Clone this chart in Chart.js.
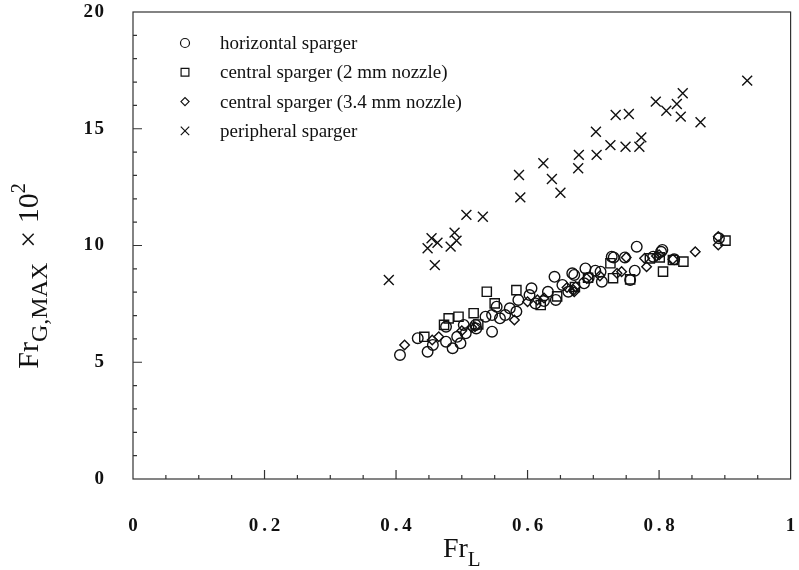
<!DOCTYPE html>
<html>
<head>
<meta charset="utf-8">
<script src="https://cdn.jsdelivr.net/npm/chart.js@4.4.0/dist/chart.umd.min.js"></script>
<style>
  html, body { margin: 0; padding: 0; background: #fff; }
</style>
</head>
<body>
<canvas id="grafico" width="799" height="570"></canvas>
<script>
// ====================================================================
// Datos: Fr_L (x) frente a Fr_G,MAX x 10^2 (y)
// ====================================================================

// horizontal sparger (círculos)
const horizontalX = [0.406, 0.433, 0.448, 0.456, 0.486, 0.476, 0.498, 0.493, 0.506, 0.546,
  0.536, 0.546, 0.558, 0.566, 0.553, 0.573, 0.583, 0.586, 0.606, 0.603,
  0.631, 0.643, 0.641, 0.653, 0.668, 0.688, 0.686, 0.476, 0.503, 0.521,
  0.766, 0.803, 0.731, 0.748, 0.711, 0.763, 0.671, 0.713, 0.756, 0.823,
  0.891, 0.791, 0.728, 0.805, 0.522, 0.612, 0.625, 0.662, 0.693, 0.703];
const horizontalY = [5.31, 6.03, 5.45, 5.74, 5.60, 5.88, 5.81, 6.09, 6.24, 6.31,
  6.95, 7.02, 6.88, 7.02, 7.38, 7.31, 7.17, 7.67, 8.17, 7.88,
  8.02, 7.67, 8.66, 8.31, 8.81, 9.02, 8.38, 6.52, 6.60, 6.60,
  9.95, 9.73, 9.49, 9.49, 8.88, 8.92, 8.74, 8.45, 8.52, 9.41,
  10.31, 9.52, 9.52, 9.81, 6.45, 7.52, 7.62, 8.02, 8.62, 8.92];

// central sparger 2 mm (cuadrados)
const central2X = [0.538, 0.583, 0.550, 0.480, 0.495, 0.518, 0.443, 0.620, 0.473, 0.726,
  0.730, 0.806, 0.821, 0.837, 0.901, 0.786, 0.801, 0.756, 0.672, 0.645,
  0.692, 0.525];
const central2Y = [8.02, 8.09, 7.52, 6.88, 6.95, 7.10, 6.09, 7.45, 6.60, 9.24,
  8.60, 8.88, 9.38, 9.31, 10.21, 9.45, 9.49, 8.55, 8.22, 7.82,
  8.62, 6.62];

// central sparger 3.4 mm (rombos)
const central34X = [0.413, 0.465, 0.580, 0.520, 0.600, 0.615, 0.670, 0.690, 0.750, 0.778,
  0.781, 0.796, 0.821, 0.855, 0.890, 0.890, 0.736, 0.743, 0.673, 0.671,
  0.455, 0.500, 0.515, 0.625, 0.660, 0.710, 0.800];
const central34Y = [5.74, 6.09, 6.81, 6.52, 7.59, 7.67, 8.09, 8.59, 9.49, 9.45,
  9.09, 9.55, 9.41, 9.73, 10.38, 10.02, 8.81, 8.88, 8.24, 8.02,
  5.95, 6.35, 6.50, 7.75, 8.20, 8.70, 9.60];

// peripheral sparger (aspas)
const perifericoX = [0.934, 0.836, 0.795, 0.827, 0.811, 0.833, 0.863, 0.734, 0.754, 0.704,
  0.773, 0.726, 0.749, 0.770, 0.678, 0.705, 0.677, 0.624, 0.587, 0.637,
  0.650, 0.589, 0.507, 0.532, 0.454, 0.463, 0.448, 0.489, 0.492, 0.483,
  0.459, 0.389];
const perifericoY = [17.06, 16.52, 16.16, 16.06, 15.77, 15.52, 15.28, 15.59, 15.63, 14.87,
  14.63, 14.30, 14.23, 14.23, 13.88, 13.88, 13.31, 13.52, 13.02, 12.85,
  12.26, 12.06, 11.31, 11.23, 10.31, 10.12, 9.88, 10.55, 10.21, 9.95,
  9.16, 8.52];

const etiquetasSerie = [
  'horizontal sparger',
  'central sparger (2 mm nozzle)',
  'central sparger (3.4 mm nozzle)',
  'peripheral sparger'
];

const TINTA = '#111';
const FUENTE = "'Liberation Serif', 'Times New Roman', serif";

// Función para armar un dataset de dispersión
function crearSerie(label, xs, ys, estilo, radio) {
  return {
    label: label,
    data: xs.map((x, i) => ({ x: x, y: ys[i] })),
    pointStyle: estilo,
    pointRadius: radio,
    pointHoverRadius: radio,
    pointBorderColor: TINTA,
    pointBackgroundColor: 'rgba(0,0,0,0)',
    pointBorderWidth: 1.4,
    showLine: false
  };
}

// Marco completo con marcas hacia dentro
const marcoEjes = {
  id: 'marcoEjes',
  afterDraw(chart) {
    const { ctx, chartArea: a, scales: { x, y } } = chart;
    ctx.save();
    ctx.strokeStyle = '#333';
    ctx.lineWidth = 1.2;
    ctx.strokeRect(a.left, a.top, a.right - a.left, a.bottom - a.top);
    ctx.beginPath();
    for (let i = 1; i < 20; i++) {
      const px = x.getPixelForValue(i * 0.05);
      const largo = i % 4 === 0 ? 9 : 4;
      ctx.moveTo(px, a.bottom);
      ctx.lineTo(px, a.bottom - largo);
    }
    for (let i = 1; i < 20; i++) {
      const py = y.getPixelForValue(i);
      const largo = i % 5 === 0 ? 9 : 4;
      ctx.moveTo(a.left, py);
      ctx.lineTo(a.left + largo, py);
    }
    ctx.stroke();
    ctx.restore();
  }
};

// Leyenda dentro del área del gráfico
const leyendaInterna = {
  id: 'leyendaInterna',
  afterDraw(chart) {
    const ctx = chart.ctx;
    ctx.save();
    chart.data.datasets.forEach((ds, i) => {
      const yFila = 43 + i * 29.3;
      ctx.strokeStyle = TINTA;
      ctx.fillStyle = 'rgba(0,0,0,0)';
      ctx.lineWidth = 1.2;
      Chart.helpers.drawPoint(ctx, {
        pointStyle: ds.pointStyle,
        radius: ds.pointRadius * 0.85,
        rotation: 0,
        borderWidth: 1.2
      }, 185, yFila);
      ctx.fillStyle = TINTA;
      ctx.font = '19px ' + FUENTE;
      ctx.textBaseline = 'middle';
      ctx.textAlign = 'left';
      ctx.fillText(ds.label, 220, yFila + 1);
    });
    ctx.restore();
  }
};

// Títulos de ejes con subíndices y superíndice
const titulosEjes = {
  id: 'titulosEjes',
  afterDraw(chart) {
    const { ctx, chartArea: a } = chart;
    ctx.save();
    ctx.fillStyle = TINTA;
    ctx.textBaseline = 'alphabetic';
    ctx.textAlign = 'left';

    // eje X: Fr_L
    const fGrande = '28px ' + FUENTE;
    const fSub = '21px ' + FUENTE;
    ctx.font = fGrande;
    const wFr = ctx.measureText('Fr').width;
    ctx.font = fSub;
    const wL = ctx.measureText('L').width;
    let x0 = (a.left + a.right) / 2 - (wFr + wL) / 2;
    ctx.font = fGrande;
    ctx.fillText('Fr', x0, 557);
    ctx.font = fSub;
    ctx.fillText('L', x0 + wFr, 566);

    // eje Y: Fr_G,MAX × 10^2
    const partes = [
      { t: 'Fr', f: '30px ' + FUENTE, dy: 0 },
      { t: 'G,MAX', f: '24px ' + FUENTE, dy: 9 },
      { t: '  \u00d7 10', f: '30px ' + FUENTE, dy: 0 },
      { t: '2', f: '20px ' + FUENTE, dy: -13 }
    ];
    let total = 0;
    partes.forEach(p => { ctx.font = p.f; p.w = ctx.measureText(p.t).width; total += p.w; });
    ctx.translate(38, 276);
    ctx.rotate(-Math.PI / 2);
    let cx = -total / 2;
    partes.forEach(p => {
      ctx.font = p.f;
      ctx.fillText(p.t, cx, p.dy);
      cx += p.w;
    });
    ctx.restore();
  }
};

function espaciar(texto, sep) {
  return texto.split('').join(sep);
}

const ctx = document.getElementById('grafico').getContext('2d');
const grafico = new Chart(ctx, {
  type: 'scatter',
  data: {
    datasets: [
      crearSerie(etiquetasSerie[0], horizontalX, horizontalY, 'circle', 5.3),
      crearSerie(etiquetasSerie[1], central2X, central2Y, 'rect', 6.5),
      crearSerie(etiquetasSerie[2], central34X, central34Y, 'rectRot', 4.8),
      crearSerie(etiquetasSerie[3], perifericoX, perifericoY, 'crossRot', 7)
    ]
  },
  options: {
    responsive: false,
    animation: false,
    devicePixelRatio: 1,
    layout: { padding: { top: 12, right: 1, left: 0, bottom: 0 } },
    plugins: {
      legend: { display: false },
      tooltip: { enabled: false },
      title: { display: false }
    },
    scales: {
      x: {
        type: 'linear',
        min: 0,
        max: 1,
        border: { display: false },
        grid: { display: false },
        afterFit: function(scale) {
          scale.height = 91;
          scale.paddingLeft = 0;
          scale.paddingRight = 0;
        },
        ticks: {
          stepSize: 0.2,
          padding: 28,
          color: TINTA,
          maxRotation: 0,
          font: { family: FUENTE, size: 19, weight: 'bold' },
          callback: function(value) {
            const v = Math.round(value * 10) / 10;
            return espaciar(String(v), '\u2009');
          }
        }
      },
      y: {
        type: 'linear',
        min: 0,
        max: 20,
        border: { display: false },
        grid: { display: false },
        afterFit: function(scale) {
          scale.width = 133;
          scale.paddingTop = 0;
          scale.paddingBottom = 0;
        },
        ticks: {
          stepSize: 5,
          padding: 21,
          color: TINTA,
          font: { family: FUENTE, size: 19, weight: 'bold' },
          callback: function(value) {
            return espaciar(String(value), '\u200a');
          }
        }
      }
    }
  },
  plugins: [marcoEjes, leyendaInterna, titulosEjes]
});
</script>
</body>
</html>
